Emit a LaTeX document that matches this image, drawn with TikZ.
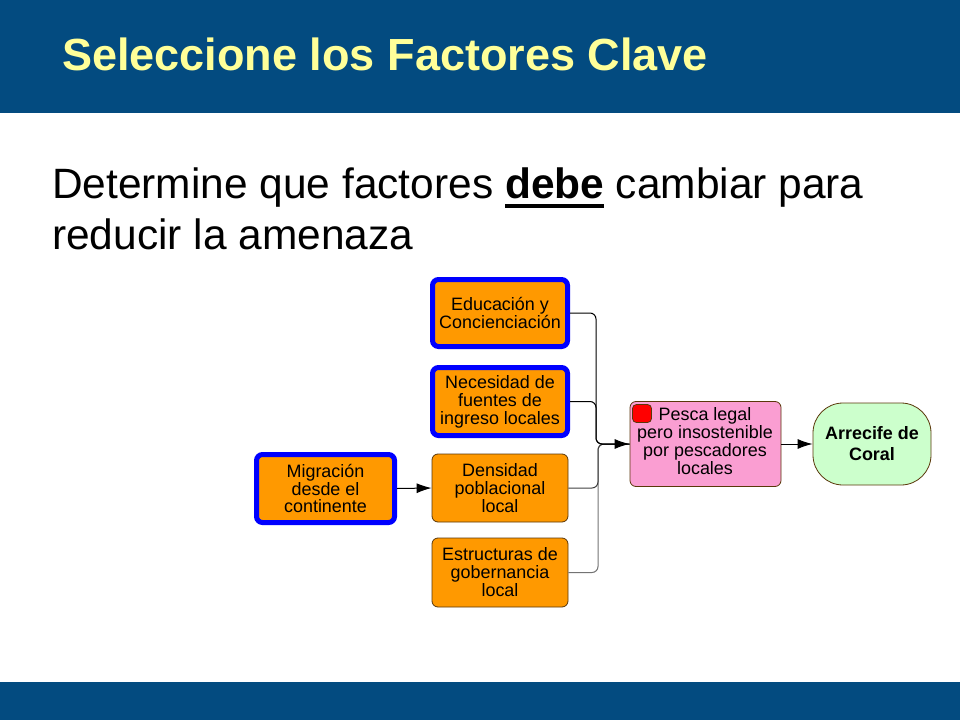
\documentclass[tikz,border=0pt]{standalone}
\usepackage{fontspec}
\setmainfont{Liberation Sans}
\usetikzlibrary{arrows.meta}
\definecolor{hdr}{RGB}{3,75,128}
\definecolor{titley}{RGB}{255,255,153}
\definecolor{orng}{RGB}{255,153,0}
\definecolor{obord}{RGB}{90,55,10}
\definecolor{keyblue}{RGB}{0,0,255}
\definecolor{pinkf}{RGB}{250,158,210}
\definecolor{greenf}{RGB}{204,255,204}
\definecolor{redsq}{RGB}{255,0,0}
\tikzset{
  fbox/.style={draw=obord, line width=0.8bp, fill=orng, rounded corners=6bp, align=center,
    font=\fontsize{18}{18}\selectfont, inner sep=0pt, minimum width=136bp, minimum height=68bp},
  keybox/.style={fbox, draw=keyblue, line width=5bp, minimum width=135bp, minimum height=67bp},
  conn/.style={line width=1bp, rounded corners=6bp},
  arr/.style={-{Latex[length=15bp,width=10bp]}},
}
\begin{document}
\begin{tikzpicture}[x=1bp,y=-1bp]
\useasboundingbox (0,0) rectangle (960,720);
\fill[hdr] (0,0) rectangle (960,113);
\fill[hdr] (0,682) rectangle (960,720);
\node[anchor=base west, text=titley, inner sep=0pt, font=\fontsize{45.2}{50}\selectfont\bfseries] (title) at (62,71) {Seleccione los Factores Clave};
\node[anchor=base west, inner sep=0pt, font=\fontsize{42.6}{50}\selectfont] (line1) at (52,198) {Determine que factores {\bfseries\setbox0\hbox{debe}\rlap{\rule[-10bp]{\wd0}{4bp}}\box0} cambiar para};
\node[anchor=base west, inner sep=0pt, font=\fontsize{42.6}{50}\selectfont] (line2) at (52,249) {reducir la amenaza};

\node[keybox] (edu) at (500,313) {Educación y\\Concienciación};
\node[keybox, minimum height=68bp] (nec) at (500,401.5) {Necesidad de\\fuentes de\\ingreso locales};
\node[keybox, minimum width=138bp, minimum height=68bp] (mig) at (325.5,488.5) {Migración\\desde el\\continente};
\node[fbox] (dens) at (500,488) {Densidad\\poblacional\\local};
\node[fbox, minimum height=69bp] (estr) at (500,572.5) {Estructuras de\\gobernancia\\local};
\node[fbox, fill=pinkf, minimum width=151bp, minimum height=85bp] (pesca) at (705.5,444) {};
\node[font=\fontsize{18}{18}\selectfont, align=center, inner sep=0pt] (pescat) at (705,441) {Pesca legal\\pero insostenible\\por pescadores\\locales};
\node[draw=obord, line width=0.8bp, fill=redsq, rounded corners=4bp, minimum width=19bp, minimum height=18bp, inner sep=0pt] (flag) at (642,413.5) {};
\node[draw=obord, line width=0.8bp, fill=greenf, rounded corners=30bp, minimum width=118bp, minimum height=82bp, align=center, inner sep=0pt, font=\fontsize{18}{21}\selectfont\bfseries] (arr) at (872,444) {Arrecife de\\Coral};

\coordinate (jt) at (596,444);
\coordinate (jb) at (598,444);
\draw[conn, draw=black!55] (estr.east) -| (jb) -- (pesca.west);
\draw[conn, draw=black!75] (dens.east) -| (jb) -- (pesca.west);
\draw[conn] (edu.east) -| (jt) -- (pesca.west);
\draw[conn, arr] (nec.east) -| (jt) -- (pesca.west);
\draw[line width=1bp, arr] (mig.east) -- (dens.west);
\draw[line width=1bp, arr] (pesca.east) -- (arr.west);
\end{tikzpicture}
\end{document}
